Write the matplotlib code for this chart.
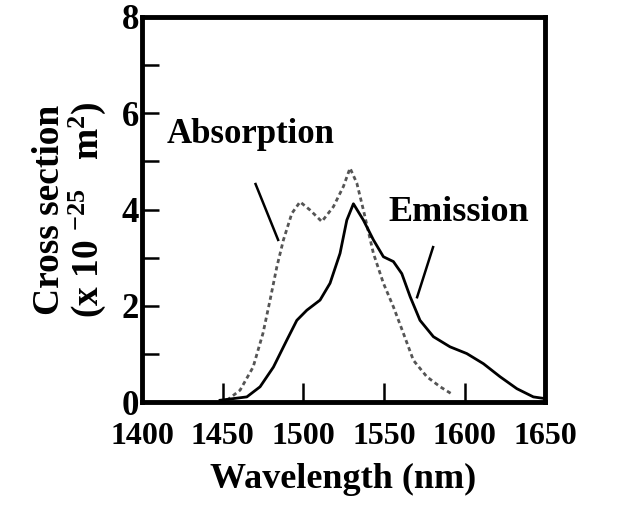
import matplotlib.pyplot as plt
import numpy as np

# absorption cross section (dashed)
abs_wl = [1452.7, 1460.8, 1468.9, 1475.0, 1479.4, 1483.6, 1487.7, 1492.9, 1498.0,
          1504.2, 1511.5, 1518.7, 1524.9, 1529.0, 1533.2, 1537.3, 1543.5, 1549.7,
          1555.9, 1562.1, 1568.3, 1576.6, 1584.9, 1593.1]
abs_cs = [0.04, 0.25, 0.73, 1.43, 2.12, 2.81, 3.37, 3.92, 4.16,
          3.99, 3.75, 4.06, 4.48, 4.86, 4.55, 3.99, 3.09, 2.47,
          1.98, 1.43, 0.87, 0.53, 0.32, 0.15]

# emission cross section (solid)
em_wl = [1448.4, 1465.0, 1473.2, 1481.5, 1489.8, 1496.0, 1502.2, 1510.4, 1516.6,
         1522.8, 1527.0, 1531.1, 1537.3, 1543.5, 1549.7, 1555.9, 1561.1, 1566.3,
         1572.4, 1580.7, 1591.0, 1601.4, 1611.7, 1622.0, 1632.5, 1642.7, 1648.8]
em_cs = [0.04, 0.11, 0.32, 0.73, 1.29, 1.70, 1.91, 2.12, 2.47,
         3.09, 3.78, 4.12, 3.78, 3.37, 3.02, 2.92, 2.67, 2.19,
         1.70, 1.36, 1.15, 1.01, 0.80, 0.53, 0.28, 0.11, 0.08]

x_ticks = [1400, 1450, 1500, 1550, 1600, 1650]
y_ticks = [0, 1, 2, 3, 4, 5, 6, 7, 8]

plt.rcParams['font.family'] = 'Liberation Serif'
plt.rcParams['font.weight'] = 'bold'
plt.rcParams['axes.labelweight'] = 'bold'
plt.rcParams['mathtext.default'] = 'regular'

fig = plt.figure(figsize=(6.23, 5.13), dpi=100)
ax = fig.add_axes([0.228, 0.216, 0.647, 0.751])

ax.plot(abs_wl, abs_cs, color='#555555', lw=2.0, linestyle=(0, (1.5, 1.2)))
ax.plot(em_wl, em_cs, color='black', lw=2.0)

ax.set_xlim(1400, 1650)
ax.set_ylim(0, 8)
ax.set_xticks(x_ticks)
ax.set_yticks(y_ticks)
ax.set_yticklabels([str(v) if v % 2 == 0 else '' for v in y_ticks])

for s in ax.spines.values():
    s.set_linewidth(3.5)
ax.tick_params(axis='x', direction='in', length=14, width=1.8, pad=14, labelsize=23)
ax.tick_params(axis='y', direction='in', length=12, width=1.8, pad=2, labelsize=25)

ax.set_xlabel('Wavelength (nm)', fontsize=26, labelpad=9)
ax.set_ylabel('Cross section\n(x 10 $^{-25}$   m$^2$)', fontsize=27, labelpad=10, linespacing=1.0)

ax.text(1415.5, 5.55, 'Absorption', fontsize=25, va='center', ha='left')
ax.plot([1470.4, 1484.4], [4.53, 3.37], color='black', lw=1.8)
ax.text(1552.6, 3.93, 'Emission', fontsize=26, va='center', ha='left')
ax.plot([1580.5, 1570.6], [3.22, 2.18], color='black', lw=1.8)

fig.savefig('out.png', dpi=100)
